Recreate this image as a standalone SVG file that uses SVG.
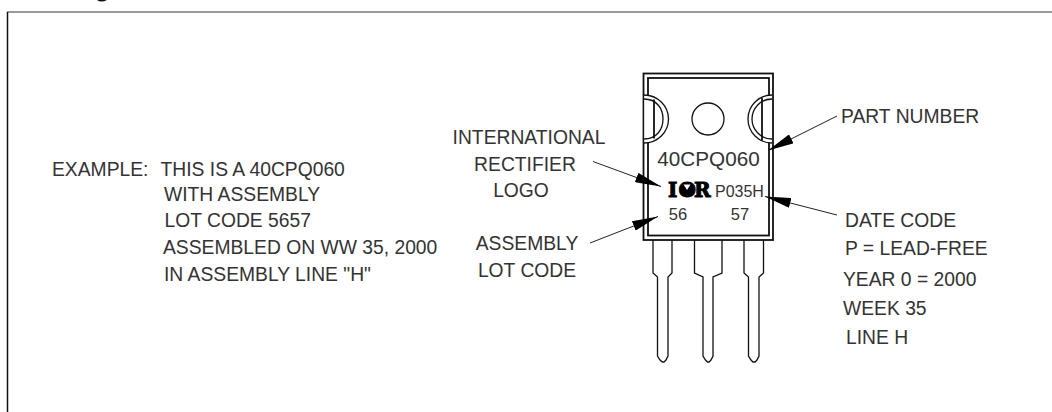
<svg xmlns="http://www.w3.org/2000/svg" width="1052" height="412" viewBox="0 0 1052 412">
<style>
text{font-family:"Liberation Sans",Arial,sans-serif;font-size:19.300px;fill:#333}
.m{text-anchor:middle}
.o{fill:none;stroke:#111;stroke-width:1.300}
.t{fill:none;stroke:#111;stroke-width:1.800}
.c{fill:none;stroke:#222;stroke-width:1}
.h{fill:#000}
</style>
<defs>
<marker id="a" viewBox="0 0 26 10" refX="26" refY="5" markerUnits="userSpaceOnUse" markerWidth="26" markerHeight="10" orient="auto"><path d="M0 0L26 5L0 10Z" class="h"/></marker>
</defs>
<rect width="1052" height="412" fill="#fff"/>
<g id="frame">
<path d="M97 0Q101 3 107 0Z" fill="#111"/>
<path d="M7 12H1052" fill="none" stroke="#777" stroke-width="1.600"/>
<path d="M7.500 12V412" fill="none" stroke="#111" stroke-width="1.500"/>
</g>
<g id="package">
<path class="o" d="M653 240V273L657.500 277V356L660 360L662.500 362H664L666 360L668 356V277L672 273V240"/>
<path class="o" d="M694.500 240V273L703 277V356L705.500 360L707.500 362H709L711 360L713 356V277L722 273V240"/>
<path class="o" d="M744 240V273L748.500 277V356L751 360L753 362H755L757 360L759 356V277L763.500 273V240"/>
<rect class="t" x="643.500" y="73.500" width="129.500" height="166.500"/>
<rect class="t" x="648" y="78" width="121" height="157.500"/>
<path d="M644.400 95A24 24 0 0 1 644.400 143Z" fill="#fff" stroke="none"/>
<path d="M772 95A24 24 0 0 0 772 143Z" fill="#fff" stroke="none"/>
<path class="o" d="M644 95A24.500 24 0 0 1 644 143"/>
<path class="o" d="M644 99C657 99 663 109 663 119C663 129 657 139 644 139"/>
<path class="t" d="M654 99.500V138.500"/>
<path class="o" d="M772 95A24 24 0 0 0 772 143"/>
<path class="o" d="M772 99C760 99 752 109 752 119C752 129 760 139 772 139"/>
<path class="t" d="M762 98V140"/>
<circle class="o" cx="708" cy="119" r="16"/>
</g>
<g id="markings">
<text x="708.500" y="166" class="m" style="font-size:20.700px">40CPQ060</text>
<text x="668 678.500 694" y="196.500" style="font-family:'DejaVu Serif',serif;font-weight:bold;font-size:20px;fill:#000;stroke:#000;stroke-width:1">IOR</text>
<ellipse cx="687" cy="189.500" rx="6.500" ry="6" fill="#000"/>
<path d="M683.500 184.500H690.500L687 190Z" fill="#fff"/>
<text x="715" y="197" style="font-size:16px">P035H</text>
<text x="678" y="220" class="m" style="font-size:16.500px">56</text>
<text x="740" y="220" class="m" style="font-size:16.500px">57</text>
</g>
<g id="connectors">
<path class="c" d="M837 116L768 150.500" marker-end="url(#a)"/>
<path class="c" d="M837 215L765 196.500" marker-end="url(#a)"/>
<path class="c" d="M593 161.500L661 186.500" marker-end="url(#a)"/>
<path class="c" d="M590 243L658 216.500" marker-end="url(#a)"/>
</g>
<g id="label-logo">
<text x="529" y="144" class="m">INTERNATIONAL</text>
<text x="525" y="171" class="m">RECTIFIER</text>
<text x="521" y="197" class="m">LOGO</text>
</g>
<g id="label-lot">
<text x="527" y="250" class="m">ASSEMBLY</text>
<text x="527" y="276.500" class="m">LOT CODE</text>
</g>
<g id="label-part"><text x="841" y="123">PART NUMBER</text></g>
<g id="label-date">
<text x="845" y="226.500">DATE CODE</text>
<text x="845" y="255">P = LEAD-FREE</text>
<text x="843" y="286">YEAR 0 = 2000</text>
<text x="843" y="315">WEEK 35</text>
<text x="846" y="344">LINE H</text>
</g>
<g id="example">
<text x="52" y="176">EXAMPLE:</text>
<text x="160.500" y="176">THIS IS A 40CPQ060</text>
<text x="164" y="200.500">WITH ASSEMBLY</text>
<text x="164.500" y="226.500">LOT CODE 5657</text>
<text x="163" y="254">ASSEMBLED ON WW 35, 2000</text>
<text x="164" y="280.500">IN ASSEMBLY LINE "H"</text>
</g>
</svg>
